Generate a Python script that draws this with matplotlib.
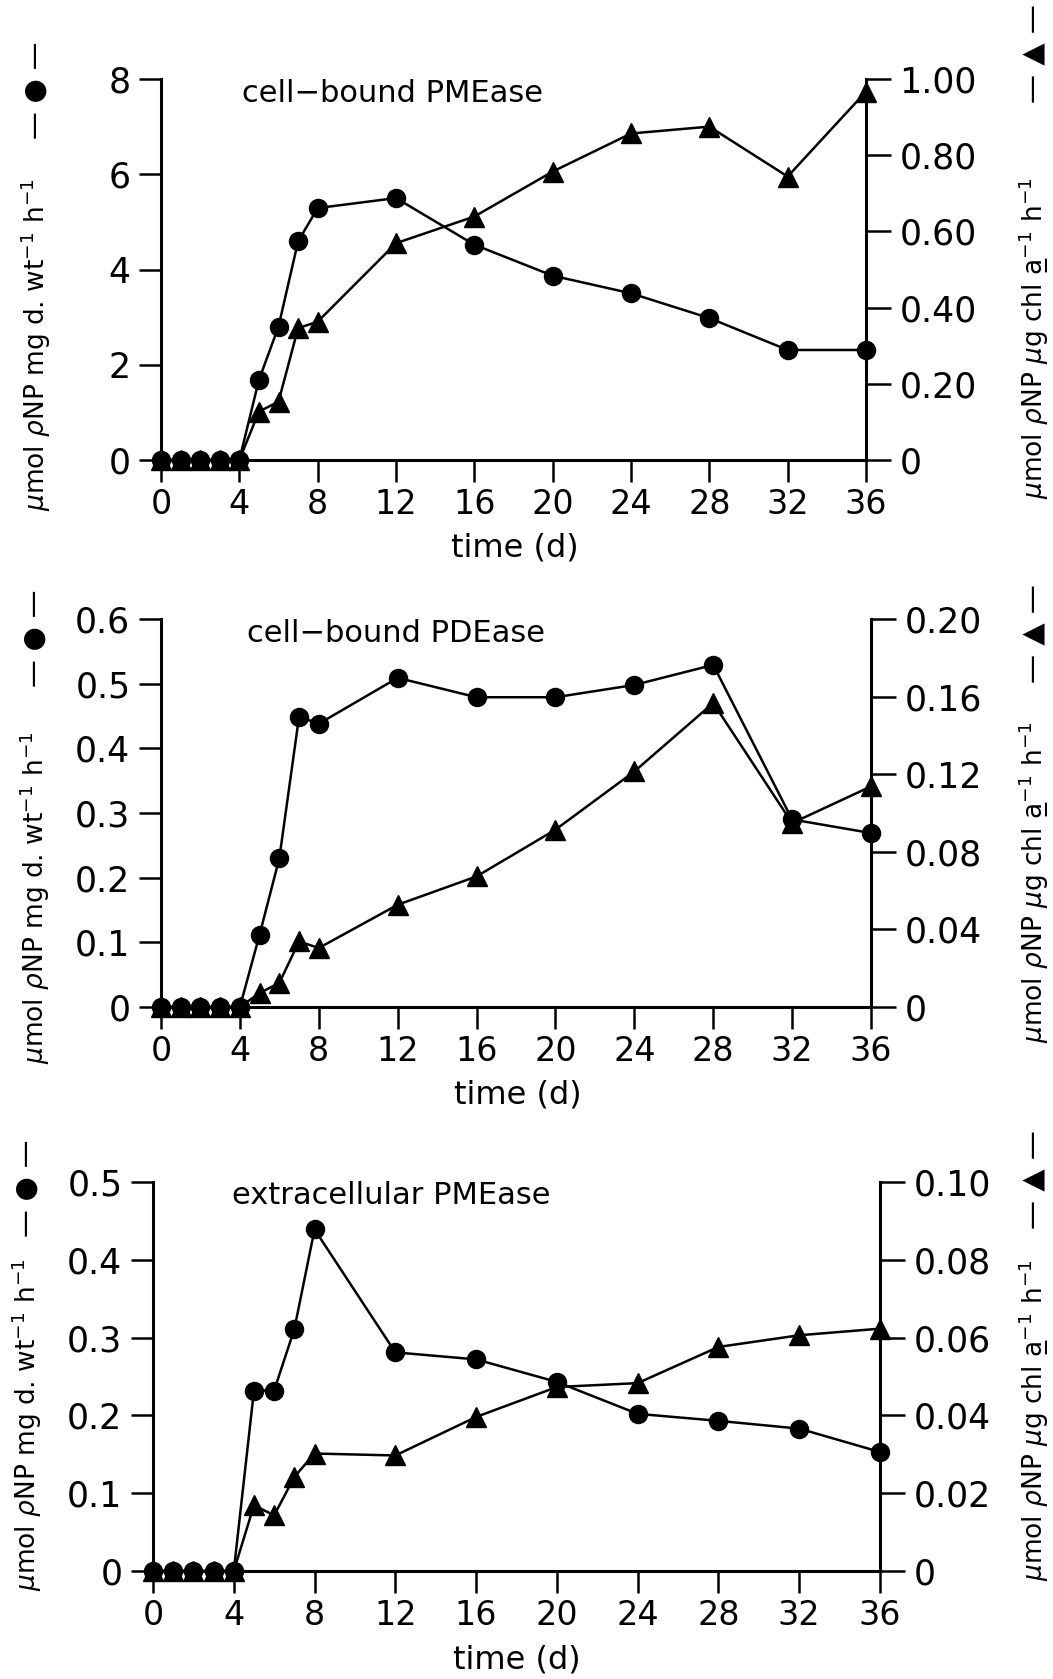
import matplotlib.pyplot as plt

W, H = 1053, 1679

# dados (dias de cultivo)
dias = [0, 1, 2, 3, 4, 5, 6, 7, 8, 12, 16, 20, 24, 28, 32, 36]

pme_cel_peso = [0, 0, 0, 0, 0, 1.68, 2.80, 4.59, 5.29, 5.50, 4.52, 3.87, 3.50, 2.98, 2.31, 2.31]
pme_cel_chl = [0, 0, 0, 0, 0, 0.127, 0.153, 0.346, 0.363, 0.569, 0.639, 0.757, 0.857, 0.875, 0.744, 0.967]

pde_cel_peso = [0, 0, 0, 0, 0, 0.112, 0.230, 0.449, 0.438, 0.509, 0.479, 0.479, 0.498, 0.529, 0.290, 0.269]
pde_cel_chl = [0, 0, 0, 0, 0, 0.0072, 0.0124, 0.0338, 0.0304, 0.0527, 0.0673, 0.0914, 0.1214, 0.1567, 0.0948, 0.1137]

pme_ext_peso = [0, 0, 0, 0, 0, 0.232, 0.232, 0.311, 0.439, 0.281, 0.272, 0.243, 0.202, 0.193, 0.183, 0.153]
pme_ext_chl = [0, 0, 0, 0, 0, 0.0169, 0.0143, 0.0242, 0.0302, 0.0297, 0.0396, 0.0473, 0.0483, 0.0576, 0.0606, 0.0623]

x_ticks = [0, 4, 8, 12, 16, 20, 24, 28, 32, 36]

esq1 = ['0', '2', '4', '6', '8']
dir1 = ['0', '0.20', '0.40', '0.60', '0.80', '1.00']
esq2 = ['0', '0.1', '0.2', '0.3', '0.4', '0.5', '0.6']
dir2 = ['0', '0.04', '0.08', '0.12', '0.16', '0.20']
esq3 = ['0', '0.1', '0.2', '0.3', '0.4', '0.5']
dir3 = ['0', '0.02', '0.04', '0.06', '0.08', '0.10']

titulos = ['cell\u2212bound PMEase', 'cell\u2212bound PDEase', 'extracellular PMEase']

rotulo_esq = r'$\mu$mol $\rho$NP mg d. wt$^{-1}$ h$^{-1}$'
rotulo_dir = r'$\mu$mol $\rho$NP $\mu$g chl a' + '\u0332' + r'$^{-1}$ h$^{-1}$'

plt.rcParams['font.family'] = ['DejaVu Sans']
plt.rcParams['mathtext.fontset'] = 'dejavusans'

fig = plt.figure(figsize=(W / 100, H / 100), dpi=100)


def fx(x):
    return x / W


def fy(y):
    return 1 - y / H


def painel(x0, x1, y0, y1, peso, chl, lbl_esq, lbl_dir, titulo, pos_tit, pos_time,
           esq_pos, dir_pos):
    ax = fig.add_axes([fx(x0), fy(y0), fx(x1 - x0), (y0 - y1) / H])
    ax2 = ax.twinx()

    vals_esq = [float(v) for v in lbl_esq]
    vals_dir = [float(v) for v in lbl_dir]

    ax.plot(dias, peso, 'o-', color='black', ms=13, lw=1.8, clip_on=False, zorder=5)
    ax2.plot(dias, chl, '^-', color='black', ms=15, lw=1.8, clip_on=False, zorder=5)

    ax.set_xlim(0, 36)
    ax.set_ylim(0, vals_esq[-1])
    ax2.set_ylim(0, vals_dir[-1])

    ax.set_xticks(x_ticks)
    ax.set_xticklabels([str(t) for t in x_ticks])
    ax.set_yticks(vals_esq)
    ax.set_yticklabels(lbl_esq)
    ax2.set_yticks(vals_dir)
    ax2.set_yticklabels(lbl_dir)

    for a in (ax, ax2):
        a.spines['top'].set_visible(False)
        for s in a.spines.values():
            s.set_linewidth(2.2)
    ax.spines['right'].set_visible(False)
    ax2.spines['left'].set_visible(False)
    ax2.spines['bottom'].set_visible(False)

    ax.tick_params(axis='x', direction='out', length=16, width=1.8, labelsize=24, pad=4)
    ax.tick_params(axis='y', direction='out', length=16, width=1.8, labelsize=25, pad=6)
    ax2.tick_params(axis='y', direction='out', length=18, width=1.8, labelsize=25, pad=6)

    fig.text(fx(pos_tit[0]), fy(pos_tit[1]), titulo, fontsize=22, ha='center', va='center')
    fig.text(fx(pos_time[0]), fy(pos_time[1]), 'time (d)', fontsize=23, ha='center', va='center')

    # rótulos dos eixos com a legenda do símbolo
    fig.text(fx(esq_pos[0]), fy(esq_pos[1]), rotulo_esq, fontsize=19, rotation=90,
             ha='center', va='center')
    fig.text(fx(esq_pos[0]), fy(esq_pos[2]), '\u2014 \u25cf \u2014', fontsize=20, rotation=90,
             ha='center', va='center')
    fig.text(fx(dir_pos[0]), fy(dir_pos[1]), rotulo_dir, fontsize=19, rotation=90,
             ha='center', va='center')
    fig.text(fx(dir_pos[0]), fy(dir_pos[2]), '\u2014 \u25b2 \u2014', fontsize=21, rotation=90,
             ha='center', va='center')


painel(161, 866, 460, 79, pme_cel_peso, pme_cel_chl, esq1, dir1, titulos[0], (392, 93), (515, 548),
       (36, 345, 90), (1034, 338, 54))
painel(161, 871, 1007, 619, pde_cel_peso, pde_cel_chl, esq2, dir2, titulos[1], (396, 633), (518, 1095),
       (35, 898, 638), (1034, 882, 634))
painel(153, 880, 1571, 1182, pme_ext_peso, pme_ext_chl, esq3, dir3, titulos[2], (391, 1195), (517, 1660),
       (27, 1425, 1188), (1034, 1420, 1180))

plt.savefig('out.png', dpi=100)
